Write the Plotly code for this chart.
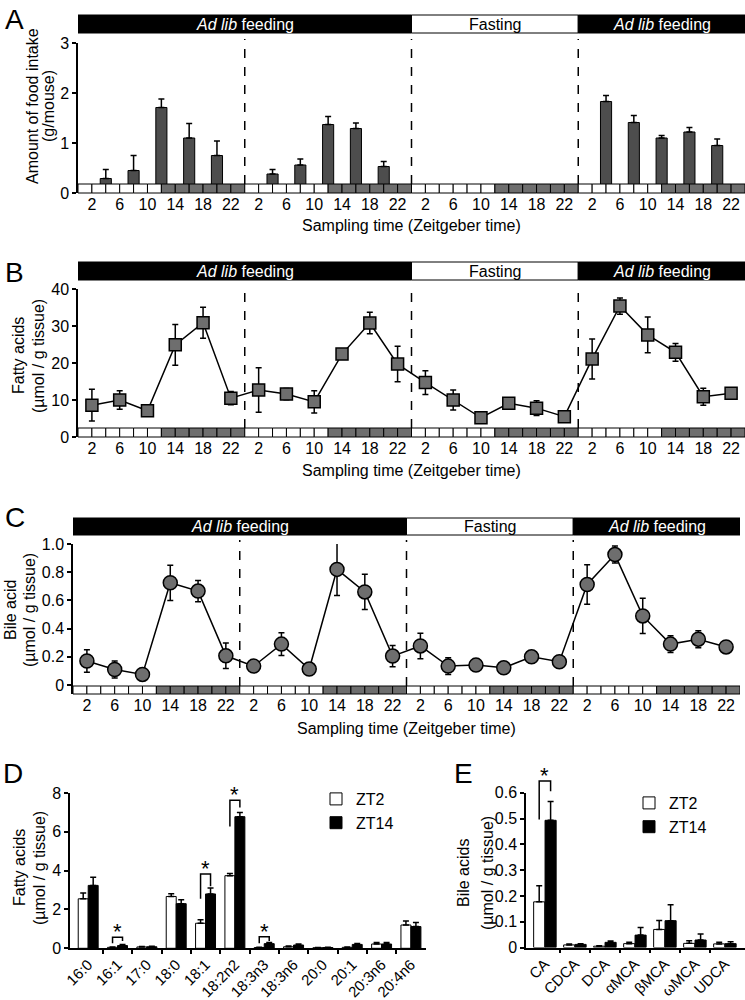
import plotly.graph_objects as go

# ---------------- data ----------------
sampling_zt = [2, 6, 10, 14, 18, 22]
n_days = 4
zt_labels = [str(z) for z in sampling_zt] * n_days

# Panel A: food intake (bars at ZT 4, 8, 12, 16, 20 of each day; none during fasting day 3)
A_hours = [4, 8, 12, 16, 20, 28, 32, 36, 40, 44, 76, 80, 84, 88, 92]
A_vals = [0.29, 0.45, 1.71, 1.10, 0.75, 0.38, 0.56, 1.37, 1.29, 0.53, 1.83, 1.41, 1.10, 1.22, 0.95]
A_err = [0.18, 0.30, 0.17, 0.29, 0.29, 0.09, 0.12, 0.16, 0.11, 0.10, 0.12, 0.14, 0.05, 0.09, 0.13]

# Panel B: fatty acids (µmol / g tissue)
B_vals = [8.6, 10.0, 7.1, 24.9, 30.9, 10.5,
          12.7, 11.6, 9.5, 22.4, 30.8, 19.7,
          14.7, 10.0, 5.2, 9.1, 7.8, 5.5,
          21.1, 35.4, 27.6, 22.9, 10.9, 11.8]
B_err = [4.3, 2.5, 0.8, 5.5, 4.2, 1.8,
         6.0, 1.5, 3.0, 0.8, 2.9, 4.8,
         3.2, 2.7, 1.5, 0.8, 2.0, 1.5,
         5.4, 2.2, 4.8, 2.4, 2.3, 1.2]

# Panel C: bile acid (µmol / g tissue)
C_vals = [0.17, 0.11, 0.075, 0.725, 0.666, 0.207,
          0.134, 0.29, 0.113, 0.82, 0.66, 0.205,
          0.277, 0.134, 0.141, 0.122, 0.20, 0.165,
          0.713, 0.925, 0.49, 0.29, 0.325, 0.27]
C_err = [0.08, 0.06, 0.04, 0.125, 0.075, 0.09,
         0.03, 0.08, 0.025, 0.185, 0.125, 0.075,
         0.09, 0.06, 0.02, 0.015, 0.03, 0.03,
         0.14, 0.06, 0.125, 0.06, 0.06, 0.03]

# Panel D: fatty acid species
fa_names = ["16:0", "16:1", "17:0", "18:0", "18:1", "18:2n2", "18:3n3", "18:3n6", "20:0", "20:1", "20:3n6", "20:4n6"]
fa_zt2 = [2.55, 0.05, 0.07, 2.67, 1.29, 3.74, 0.04, 0.08, 0.03, 0.05, 0.22, 1.20]
fa_zt2_err = [0.30, 0.02, 0.02, 0.14, 0.18, 0.11, 0.01, 0.04, 0.01, 0.02, 0.08, 0.21]
fa_zt14 = [3.24, 0.14, 0.08, 2.30, 2.80, 6.78, 0.24, 0.17, 0.04, 0.20, 0.22, 1.12]
fa_zt14_err = [0.42, 0.06, 0.03, 0.20, 0.30, 0.21, 0.06, 0.05, 0.01, 0.05, 0.08, 0.21]
fa_sig_idx = [1, 4, 5, 6]
fa_sig_top = [0.57, 3.83, 7.63, 0.60]
fa_sig_left = [0.26, 2.55, 6.27, 0.26]
fa_sig_right = [0.38, 3.20, 7.25, 0.38]

# Panel E: bile acid species
ba_names = ["CA", "CDCA", "DCA", "αMCA", "βMCA", "ωMCA", "UDCA"]
ba_zt2 = [0.177, 0.010, 0.005, 0.015, 0.070, 0.016, 0.014]
ba_zt2_err = [0.062, 0.004, 0.002, 0.005, 0.035, 0.010, 0.006]
ba_zt14 = [0.493, 0.012, 0.020, 0.048, 0.104, 0.029, 0.015]
ba_zt14_err = [0.073, 0.003, 0.005, 0.030, 0.062, 0.023, 0.007]
ba_sig_idx = [0]
ba_sig_top = [0.645]
ba_sig_left = [0.496]
ba_sig_right = [0.606]

phases = [("<i>Ad lib</i> feeding", 0, 48, "black", "white"),
          ("Fasting", 48, 72, "white", "black"),
          ("<i>Ad lib</i> feeding", 72, 96, "black", "white")]

# ---------------- helpers ----------------
W, H = 745, 1000
FONT = "Liberation Sans, Arial, Helvetica, sans-serif"
DARK = "#6e6e6e"


def px(x):
    return x / W


def py(y):
    return 1 - y / H


hours = [d * 24 + z for d in range(n_days) for z in sampling_zt]

fig = go.Figure()
shapes = []
annotations = []

# ---------------- Panel A ----------------
fig.add_trace(go.Bar(
    x=A_hours, y=A_vals, width=1.6, xaxis="x", yaxis="y",
    marker=dict(color="#4d4d4d", line=dict(color="black", width=1)),
    error_y=dict(type="data", array=A_err, arrayminus=[0] * len(A_err), symmetric=False,
                 color="black", thickness=1.5, width=3),
    showlegend=False))

# ---------------- Panel B ----------------
fig.add_trace(go.Scatter(
    x=hours, y=B_vals, xaxis="x2", yaxis="y2", mode="lines+markers",
    line=dict(color="black", width=1.5),
    marker=dict(symbol="square", size=12, color=DARK, line=dict(color="black", width=1.5)),
    error_y=dict(type="data", array=B_err, color="black", thickness=1.5, width=3),
    showlegend=False))

# ---------------- Panel C ----------------
fig.add_trace(go.Scatter(
    x=hours, y=C_vals, xaxis="x3", yaxis="y3", mode="lines+markers",
    line=dict(color="black", width=1.5),
    marker=dict(symbol="circle", size=14, color=DARK, line=dict(color="black", width=1.5)),
    error_y=dict(type="data", array=C_err, color="black", thickness=1.5, width=3),
    showlegend=False))

# ---------------- Panel D ----------------
D_OFF, D_W = 0.17, 0.34
fa_idx = list(range(len(fa_names)))
fig.add_trace(go.Bar(
    x=[i - D_OFF for i in fa_idx], y=fa_zt2, width=D_W, name="ZT2", xaxis="x4", yaxis="y4",
    marker=dict(color="white", line=dict(color="black", width=1)),
    error_y=dict(type="data", array=fa_zt2_err, arrayminus=[0] * len(fa_zt2), symmetric=False,
                 color="black", thickness=1.5, width=3),
    legend="legend"))
fig.add_trace(go.Bar(
    x=[i + D_OFF for i in fa_idx], y=fa_zt14, width=D_W, name="ZT14", xaxis="x4", yaxis="y4",
    marker=dict(color="black", line=dict(color="black", width=1)),
    error_y=dict(type="data", array=fa_zt14_err, arrayminus=[0] * len(fa_zt14), symmetric=False,
                 color="black", thickness=1.5, width=3),
    legend="legend"))
for i, top, lo, ro in zip(fa_sig_idx, fa_sig_top, fa_sig_left, fa_sig_right):
    fig.add_trace(go.Scatter(
        x=[i - D_OFF, i - D_OFF, i + D_OFF, i + D_OFF], y=[lo, top, top, ro],
        xaxis="x4", yaxis="y4", mode="lines", line=dict(color="black", width=1.5),
        showlegend=False, hoverinfo="skip"))
    annotations.append(dict(x=i, y=top, xref="x4", yref="y4", text="*", showarrow=False,
                            yanchor="bottom", yshift=-9, font=dict(size=22, family=FONT, color="black")))

# ---------------- Panel E ----------------
E_OFF, E_W = 0.19, 0.37
ba_idx = list(range(len(ba_names)))
fig.add_trace(go.Bar(
    x=[i - E_OFF for i in ba_idx], y=ba_zt2, width=E_W, name="ZT2", xaxis="x5", yaxis="y5",
    marker=dict(color="white", line=dict(color="black", width=1)),
    error_y=dict(type="data", array=ba_zt2_err, arrayminus=[0] * len(ba_zt2), symmetric=False,
                 color="black", thickness=1.5, width=3),
    legend="legend2"))
fig.add_trace(go.Bar(
    x=[i + E_OFF for i in ba_idx], y=ba_zt14, width=E_W, name="ZT14", xaxis="x5", yaxis="y5",
    marker=dict(color="black", line=dict(color="black", width=1)),
    error_y=dict(type="data", array=ba_zt14_err, arrayminus=[0] * len(ba_zt14), symmetric=False,
                 color="black", thickness=1.5, width=3),
    legend="legend2"))
# significance bracket for E drawn on an invisible helper axis pair with the same scale
# (it rises above the 0.6 top of the visible axis)
E_PX_PER_UNIT = (947.5 - 792.7) / 0.6
E_EXT_TOP = 760
for i, top, lo, ro in zip(ba_sig_idx, ba_sig_top, ba_sig_left, ba_sig_right):
    fig.add_trace(go.Scatter(
        x=[i - E_OFF, i - E_OFF, i + E_OFF, i + E_OFF], y=[lo, top, top, ro],
        xaxis="x6", yaxis="y6", mode="lines", line=dict(color="black", width=1.5),
        showlegend=False, hoverinfo="skip"))
    annotations.append(dict(x=i, y=top, xref="x6", yref="y6", text="*", showarrow=False,
                            yanchor="bottom", yshift=-9, font=dict(size=22, family=FONT, color="black")))

# ---------------- time-course decorations (A, B, C) ----------------
time_panels = [
    # xref, banner top/bottom, strip top/bottom, dash top, xlabel title y
    ("x", 15, 33, 184, 193, 39, 226),
    ("x2", 262, 280, 428, 437, 286, 470),
    ("x3", 518, 535, 686, 694, 540, 728),
]
for xref, bt, bb, st, sb, dt, ty in time_panels:
    for label, h0, h1, fill, tcol in phases:
        shapes.append(dict(type="rect", xref=xref, yref="paper", x0=h0, x1=h1, y0=py(bb), y1=py(bt),
                           fillcolor=fill, line=dict(color="black", width=1), layer="above"))
        annotations.append(dict(x=(h0 + h1) / 2, y=py((bt + bb) / 2), xref=xref, yref="paper", text=label,
                                showarrow=False, font=dict(size=16, family=FONT, color=tcol),
                                xanchor="center", yanchor="middle"))
    for k in range(n_days * 12):
        light = (k % 12) < 6
        shapes.append(dict(type="rect", xref=xref, yref="paper", x0=2 * k, x1=2 * k + 2,
                           y0=py(sb), y1=py(st), fillcolor="white" if light else DARK,
                           line=dict(color="black", width=1), layer="above"))
    for d in range(1, n_days):
        shapes.append(dict(type="line", xref=xref, yref="paper", x0=24 * d, x1=24 * d,
                           y0=py(st), y1=py(dt), line=dict(color="black", width=1.5, dash="dash"),
                           layer="above"))
    annotations.append(dict(x=0.5, y=py(ty), xref=xref + " domain", yref="paper",
                            text="Sampling time (Zeitgeber time)", showarrow=False,
                            font=dict(size=16, family=FONT, color="black"),
                            xanchor="center", yanchor="middle"))

# ---------------- y axis titles ----------------
ytitles = [
    ("Amount of food intake", 33, 106),
    ("(g/mouse)", 49, 106),
    ("Fatty acids", 18, 356),
    ("(µmol / g tissue)", 38, 356),
    ("Bile acid", 10, 610),
    ("(µmol / g tissue)", 29, 610),
    ("Fatty acids", 19, 868),
    ("(µmol / g tissue)", 39, 868),
    ("Bile acids", 463, 873),
    ("(µmol / g tissue)", 487, 873),
]
for txt, x, y in ytitles:
    annotations.append(dict(x=px(x), y=py(y), xref="paper", yref="paper", text=txt, textangle=-90,
                            showarrow=False, xanchor="center", yanchor="middle",
                            font=dict(size=16, family=FONT, color="black")))

# panel letters
for letter, x, y in [("A", 15, 19), ("B", 15, 272), ("C", 15, 517), ("D", 13, 773), ("E", 463, 773)]:
    annotations.append(dict(x=px(x), y=py(y), xref="paper", yref="paper", text=letter, showarrow=False,
                            xanchor="center", yanchor="middle", font=dict(size=28, family=FONT, color="black")))

# ---------------- axes ----------------
tfont = dict(size=16, family=FONT, color="black")
catfont = dict(size=15, family=FONT, color="black")
time_x = dict(range=[0, 96], tickmode="array", tickvals=hours, ticktext=zt_labels, ticks="",
              showline=False, showgrid=False, zeroline=False, tickfont=tfont, automargin=False)
yax = dict(showline=True, linecolor="black", linewidth=1.5, ticks="outside", ticklen=4, tickwidth=1.5,
           tickcolor="black", showgrid=False, zeroline=False, tickfont=tfont, automargin=False)
hidden = dict(visible=False, showgrid=False, zeroline=False, automargin=False)

fig.update_layout(
    template="none",
    width=W, height=H, margin=dict(l=0, r=0, t=0, b=0, pad=0), autosize=False,
    paper_bgcolor="white", plot_bgcolor="rgba(0,0,0,0)", barmode="overlay",
    font=dict(family=FONT, size=16, color="black"),
    xaxis=dict(time_x, domain=[px(78), 1], anchor="y"),
    yaxis=dict(yax, domain=[py(193), py(43)], range=[0, 3], tickvals=[0, 1, 2, 3], anchor="x"),
    xaxis2=dict(time_x, domain=[px(78), 1], anchor="y2"),
    yaxis2=dict(yax, domain=[py(437), py(289)], range=[0, 40], tickvals=[0, 10, 20, 30, 40], anchor="x2"),
    xaxis3=dict(time_x, domain=[px(73), px(740)], anchor="y3"),
    yaxis3=dict(yax, domain=[py(694), py(544)], range=[-9 / 141, 1.0],
                tickvals=[0, 0.2, 0.4, 0.6, 0.8, 1.0], ticktext=["0", "0.2", "0.4", "0.6", "0.8", "1.0"],
                anchor="x3"),
    xaxis4=dict(domain=[px(70), px(425.6)], range=[-0.62, 11.5], anchor="y4",
                tickmode="array", tickvals=fa_idx, ticktext=fa_names, tickangle=-45, ticks="",
                showline=True, linecolor="black", linewidth=1.5, showgrid=False, zeroline=False,
                tickfont=catfont, automargin=False,
                minor=dict(tickvals=[i + 0.5 for i in fa_idx[:-1]], ticks="outside", ticklen=4,
                           tickwidth=1.5, tickcolor="black", showgrid=False)),
    yaxis4=dict(yax, domain=[py(948.3), py(793)], range=[0, 8], tickvals=[0, 2, 4, 6, 8], anchor="x4"),
    xaxis5=dict(domain=[px(526), 1], range=[-0.63, 6.67], anchor="y5",
                tickmode="array", tickvals=ba_idx, ticktext=ba_names, tickangle=-45, ticks="",
                showline=True, linecolor="black", linewidth=1.5, showgrid=False, zeroline=False,
                tickfont=catfont, automargin=False,
                minor=dict(tickvals=[i + 0.5 for i in ba_idx[:-1]], ticks="outside", ticklen=4,
                           tickwidth=1.5, tickcolor="black", showgrid=False)),
    yaxis5=dict(yax, domain=[py(947.5), py(792.7)], range=[0, 0.6],
                tickvals=[0, 0.1, 0.2, 0.3, 0.4, 0.5, 0.6],
                ticktext=["0", "0.1", "0.2", "0.3", "0.4", "0.5", "0.6"], anchor="x5"),
    xaxis6=dict(hidden, domain=[px(526), 1], range=[-0.63, 6.67], anchor="y6"),
    yaxis6=dict(hidden, domain=[py(947.5), py(E_EXT_TOP)],
                range=[0, (947.5 - E_EXT_TOP) / E_PX_PER_UNIT], anchor="x6"),
    legend=dict(x=px(316), y=py(782), xanchor="left", yanchor="top", bgcolor="rgba(0,0,0,0)",
                font=dict(size=16, family=FONT, color="black"), itemwidth=30, tracegroupgap=0),
    legend2=dict(x=px(629), y=py(786), xanchor="left", yanchor="top", bgcolor="rgba(0,0,0,0)",
                 font=dict(size=16, family=FONT, color="black"), itemwidth=30, tracegroupgap=0),
    shapes=shapes,
    annotations=annotations,
)

# remove the browser's default 8px page margin so the 745x1000 figure fills the window exactly
page_fix = "document.body.style.margin='0';document.body.style.padding='0';document.documentElement.style.overflow='hidden';"
fig.write_html("out.html", post_script=page_fix, config={"displayModeBar": False, "staticPlot": False})
